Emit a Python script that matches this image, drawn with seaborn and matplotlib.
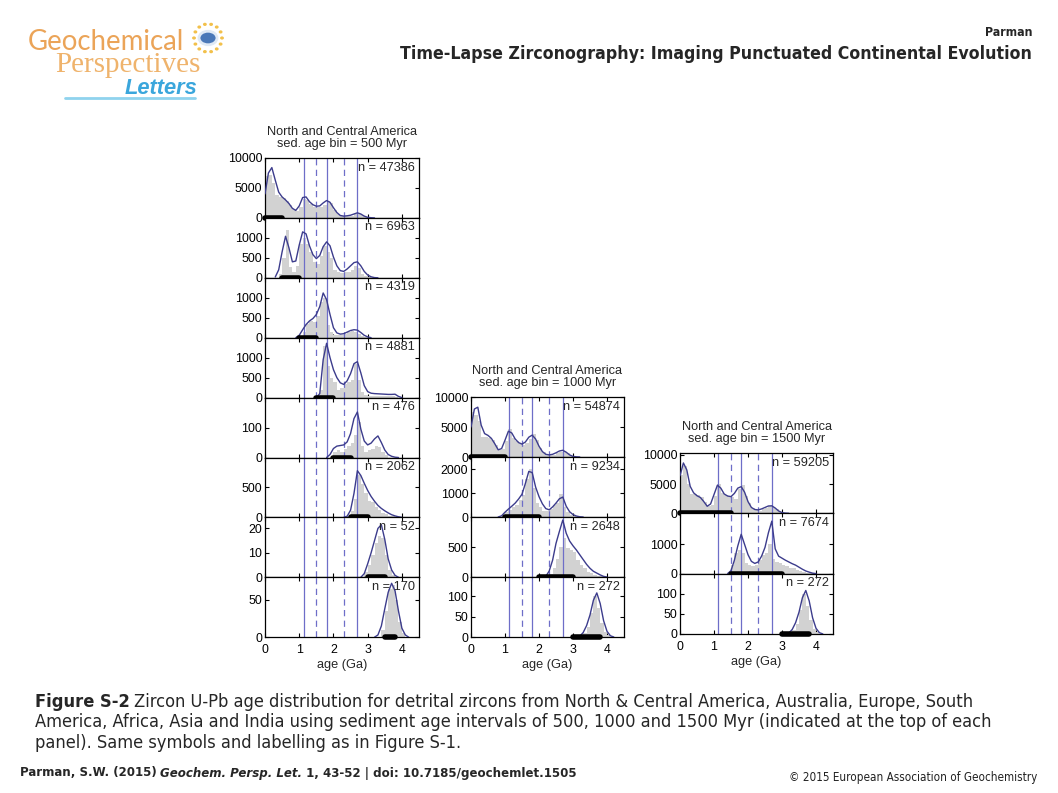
import numpy as np
import pandas as pd
import matplotlib
matplotlib.use("Agg")
import matplotlib.pyplot as plt
from matplotlib import font_manager as fm
from matplotlib.patches import Circle
import seaborn as sns

sns.set_style("ticks")
plt.rcParams["font.family"] = ["Liberation Sans", "DejaVu Sans"]

# ---------------------------------------------------------------- data
# curves: age-distribution curve read every 0.1 Ga from the given start age
# hists:  zircon counts in 0.1 Ga bins, first bin starting at the given age
solid_ages = [1.13, 1.8, 2.7]
dashed_ages = [1.5, 2.3]

# sed. age bin = 500 Myr
n_500 = [47386, 6963, 4319, 4881, 476, 2062, 52, 170]
sed_500 = [(0.0, 0.5), (0.5, 1.0), (1.0, 1.5), (1.5, 2.0),
           (2.0, 2.5), (2.5, 3.0), (3.0, 3.5), (3.5, 3.8)]
curve_start_500 = [0.0, 0.3, 0.9, 1.5, 1.8, 2.3, 2.8, 3.2]
curve_500 = [
    [4000, 7500, 8400, 6300, 4300, 3500, 3000, 2400, 1600, 1250, 2000, 3400, 3500, 2700, 2200,
     1950, 2000, 2500, 2900, 2600, 1700, 900, 400, 300, 350, 450, 650, 850, 650, 300, 100, 30, 0],
    [20, 200, 650, 1040, 750, 400, 420, 820, 1150, 1100, 800, 580, 480, 560, 780, 900, 800, 520,
     300, 180, 160, 220, 300, 380, 400, 300, 160, 70, 25, 5, 0],
    [0, 60, 200, 330, 420, 480, 580, 780, 1120, 950, 580, 250, 120, 90, 100, 140, 180, 200, 190,
     130, 60, 20, 0],
    [0, 100, 950, 1360, 1000, 700, 500, 370, 330, 420, 600, 850, 900, 620, 300, 150, 110, 100,
     95, 90, 85, 80, 80, 85, 30, 0],
    [0, 10, 30, 38, 40, 42, 52, 80, 130, 152, 95, 55, 42, 48, 62, 72, 50, 25, 10, 4, 1, 0],
    [0, 20, 120, 400, 780, 700, 570, 450, 350, 270, 200, 150, 110, 75, 45, 25, 10, 0],
    [0, 1.5, 5.5, 10, 15, 20, 21.5, 15.5, 7.5, 3, 0.8, 0],
    [0, 3, 15, 38, 60, 72, 62, 35, 12, 3, 0],
]
hist_start_500 = [0.0, 0.4, 1.0, 1.6, 2.0, 2.4, 2.9, 3.4]
hist_500 = [
    [7000, 7200, 5800, 3800, 3500, 3300, 2800, 2200, 1500, 1200, 1800, 3200, 3000, 2400, 1800,
     1800, 1900, 2200, 2800, 2500, 1400, 700, 300, 250, 300, 400, 600, 700, 500, 200, 80, 20],
    [100, 500, 1200, 280, 150, 300, 850, 1000, 850, 650, 400, 350, 550, 800, 650, 500, 200, 150,
     120, 150, 150, 200, 300, 250, 100, 40, 20],
    [50, 150, 350, 420, 400, 550, 900, 1000, 320, 150, 80, 60, 60, 90, 150, 170, 150, 100, 40, 15],
    [200, 1300, 800, 500, 400, 200, 250, 350, 400, 450, 850, 450, 150, 60, 50, 40, 40, 35, 30,
     30, 30, 30, 20],
    [20, 25, 20, 30, 40, 50, 75, 120, 40, 20, 25, 30, 40, 35, 20, 8],
    [20, 100, 300, 700, 550, 400, 280, 260, 180, 120, 80, 50, 30, 20, 10],
    [2, 5, 9, 14, 17, 16, 9, 3, 1],
    [10, 35, 65, 70, 50, 20, 5],
]
ymax_500 = [10000, 1500, 1500, 1500, 200, 1000, 24.5, 80]
yticks_500 = [[0, 5000, 10000], [0, 500, 1000], [0, 500, 1000], [0, 500, 1000],
              [0, 100], [0, 500], [0, 10, 20], [0, 50]]

# the n = 272 panel is the same sample set in the 1000 and 1500 Myr columns
curve_272 = [0, 2, 11, 28, 54, 90, 108, 82, 40, 14, 3, 0]
hist_272 = [10, 25, 60, 100, 70, 35, 12, 4]

# sed. age bin = 1000 Myr
n_1000 = [54874, 9234, 2648, 272]
sed_1000 = [(0.0, 1.0), (1.0, 2.0), (2.0, 3.0), (3.0, 3.8)]
curve_start_1000 = [0.0, 0.8, 2.1, 3.1]
curve_1000 = [
    [5000, 8000, 8300, 5300, 3900, 3600, 3100, 2200, 1200, 1400, 2800, 4300, 4000, 3000, 2400,
     2150, 2500, 3300, 3650, 3000, 1800, 900, 450, 350, 450, 700, 1000, 1120, 800, 350, 100, 30, 0],
    [0, 50, 200, 330, 450, 580, 750, 950, 1400, 1900, 1850, 1250, 850, 550, 350, 300, 420, 580,
     760, 830, 450, 220, 100, 40, 10, 0],
    [0, 10, 100, 280, 560, 760, 950, 730, 600, 520, 450, 370, 290, 210, 145, 95, 65, 35, 10, 0],
    curve_272,
]
hist_start_1000 = [0.0, 0.9, 2.3, 3.3]
hist_1000 = [
    [7500, 7000, 6000, 3300, 3300, 3200, 2800, 2000, 1200, 1400, 2600, 4600, 3200, 2600, 2300,
     2000, 2300, 3000, 3800, 2800, 1500, 800, 400, 300, 400, 600, 900, 1000, 600, 250, 80, 20],
    [60, 200, 300, 400, 500, 700, 900, 1600, 2000, 1200, 600, 400, 250, 250, 350, 500, 600, 950,
     400, 200, 80, 30],
    [50, 150, 300, 500, 650, 480, 450, 420, 280, 200, 150, 90, 60, 40, 20, 10],
    hist_272,
]
ymax_1000 = [10000, 2500, 1000, 147]
yticks_1000 = [[0, 5000, 10000], [0, 1000, 2000], [0, 500], [0, 50, 100]]

# sed. age bin = 1500 Myr
n_1500 = [59205, 7674, 272]
sed_1500 = [(0.0, 1.5), (1.5, 3.0), (3.0, 3.8)]
curve_start_1500 = [0.0, 1.4, 3.1]
curve_1500 = [
    [6400, 8600, 7400, 4600, 3500, 3000, 2700, 2000, 1200, 1600, 3200, 4800, 4300, 3300, 2950,
     2850, 3400, 4300, 4550, 3600, 2000, 1000, 650, 580, 750, 1000, 1250, 1280, 900, 400, 120, 30, 0],
    [0, 100, 460, 950, 1350, 1000, 650, 420, 350, 400, 600, 900, 1400, 1800, 850, 600, 530, 460,
     400, 340, 290, 220, 150, 90, 50, 15, 0],
    curve_272,
]
hist_start_1500 = [0.0, 1.5, 3.3]
hist_1500 = [
    [6500, 8000, 5000, 3300, 3300, 3200, 2800, 2000, 1200, 1500, 3000, 5000, 3500, 3100, 2900,
     2700, 2500, 4200, 4800, 3000, 1700, 900, 500, 450, 700, 900, 1300, 1100, 700, 300, 80, 20],
    [300, 700, 800, 700, 350, 300, 250, 300, 450, 650, 700, 1000, 500, 400, 350, 300, 250, 200,
     180, 130, 90, 50, 30, 10],
    hist_272,
]
ymax_1500 = [10300, 2070, 150]
yticks_1500 = [[0, 5000, 10000], [0, 1000], [0, 50, 100]]

bin_labels = ["500", "1000", "1500"]

# ---------------------------------------------------------------- style
KDE = "#3c3c8c"
VLINE = "#6e6ec8"
BAR = "#d2d2d2"
W, H = 1058, 793

fig = plt.figure(figsize=(W / 100, H / 100), dpi=100)
renderer = fig.canvas.get_renderer()


def box(left, top, width, height):
    return [left / W, 1 - (top + height) / H, width / W, height / H]


def draw_panel(ax, n, cstart, curve, hstart, hist, sed, ymax, yt, bottom):
    bars = pd.DataFrame({"age": hstart + 0.05 + 0.1 * np.arange(len(hist)),
                         "count": np.asarray(hist, dtype=float)})
    sns.histplot(data=bars, x="age", weights="count", binwidth=0.1, binrange=(0, 4.5),
                 color=BAR, alpha=1, linewidth=0, ax=ax, zorder=1)
    for a in solid_ages:
        ax.axvline(a, color=VLINE, lw=0.9, zorder=2)
    for a in dashed_ages:
        ax.axvline(a, color=VLINE, lw=0.9, ls=(0, (5, 3.5)), zorder=2)
    line = pd.DataFrame({"age": cstart + 0.1 * np.arange(len(curve)),
                         "value": np.asarray(curve, dtype=float)})
    sns.lineplot(data=line, x="age", y="value", color=KDE, linewidth=1.0, ax=ax, zorder=3)
    ax.plot(sed, [0, 0], color="black", lw=4, solid_capstyle="round",
            clip_on=False, zorder=6)
    ax.text(0.975, 0.94, f"n = {n}", ha="right", va="top", fontsize=9.2,
            transform=ax.transAxes, zorder=4)
    ax.set_xlim(0, 4.5)
    ax.set_ylim(0, ymax)
    ax.set_xticks([0, 1, 2, 3, 4])
    ax.set_yticks(yt)
    ax.set_xlabel("")
    ax.set_ylabel("")
    for s in ax.spines.values():
        s.set_color("black")
        s.set_linewidth(0.9)
    ax.tick_params(direction="in", length=3, width=0.8, colors="black",
                   labelsize=8.9, top=True, right=True)
    ax.tick_params(axis="y", pad=2)
    ax.tick_params(axis="x", pad=5, labelbottom=bottom)
    if bottom:
        ax.set_xlabel("age (Ga)", fontsize=9.2, labelpad=2)


columns = [
    (box(265, 158, 154, 59.9), n_500, curve_start_500, curve_500, hist_start_500, hist_500,
     sed_500, ymax_500, yticks_500, bin_labels[0]),
    (box(471, 397, 153, 60.0), n_1000, curve_start_1000, curve_1000, hist_start_1000, hist_1000,
     sed_1000, ymax_1000, yticks_1000, bin_labels[1]),
    (box(680, 453, 153, 60.3), n_1500, curve_start_1500, curve_1500, hist_start_1500, hist_1500,
     sed_1500, ymax_1500, yticks_1500, bin_labels[2]),
]

# box() gives the top panel; the others stack downwards
for (l, b, w, h), ns, cst, cur, hst, his, sed, ym, yt, lab in columns:
    k = len(ns)
    for i in range(k):
        ax = fig.add_axes([l, b - i * h, w, h])
        draw_panel(ax, ns[i], cst[i], cur[i], hst[i], his[i], sed[i], ym[i], yt[i], i == k - 1)
        if i == 0:
            ax.text(0.5, 1.14, f"North and Central America\nsed. age bin = {lab} Myr",
                    ha="center", va="bottom", fontsize=9.2, linespacing=1.0,
                    transform=ax.transAxes)


# ---------------------------------------------------------------- page text
# the page text is set in a narrow sans; use one if it is installed
installed = {(f.name, f.stretch) for f in fm.fontManager.ttflist}
if any(name == "Liberation Sans Narrow" for name, _ in installed):
    NARROW = dict(family=["Liberation Sans Narrow", "DejaVu Sans"])
elif any(name.startswith("DejaVu Sans") and str(st).lower() in ("condensed", "semi-condensed", "75", "87")
         for name, st in installed):
    NARROW = dict(family=["DejaVu Sans"], stretch="condensed")
else:
    NARROW = dict(family=["Liberation Sans", "DejaVu Sans"])


def fit_text(x, y, s, width_px, ha="left", **kw):
    t = fig.text(x / W, 1 - y / H, s, ha=ha, va="center", **kw)
    wpx = t.get_window_extent(renderer=renderer).width
    t.set_fontsize(t.get_fontsize() * width_px / wpx)
    return t


def text_width(t):
    return t.get_window_extent(renderer=renderer).width


fit_text(1032, 33, "Parman", 47, ha="right", fontweight="bold", **NARROW)
fit_text(1032, 54, "Time-Lapse Zirconography: Imaging Punctuated Continental Evolution", 627,
         ha="right", fontweight="bold", **NARROW)

# caption
cap2 = fit_text(35, 722, "America, Africa, Asia and India using sediment age intervals of 500, "
                "1000 and 1500 Myr (indicated at the top of each", 960, **NARROW)
fs = cap2.get_fontsize()
t_fig = fig.text(35 / W, 1 - 702 / H, "Figure S-2", fontsize=fs, fontweight="bold",
                 va="center", **NARROW)
x_next = 35 + text_width(t_fig) + fs * 0.3
fig.text(x_next / W, 1 - 702 / H, "Zircon U-Pb age distribution for detrital zircons from "
         "North & Central America, Australia, Europe, South", fontsize=fs, va="center", **NARROW)
fig.text(35 / W, 1 - 743 / H, "panel). Same symbols and labelling as in Figure S-1.",
         fontsize=fs, va="center", **NARROW)

# footer
f1 = fit_text(20, 773, "Parman, S.W. (2015)", 136, fontweight="bold", **NARROW)
ffs = f1.get_fontsize()
x1 = 20 + text_width(f1) + ffs * 0.35
f2 = fig.text(x1 / W, 1 - 773 / H, "Geochem. Persp. Let.", fontsize=ffs, fontweight="bold",
              style="italic", va="center", **NARROW)
x2 = x1 + text_width(f2)
fig.text(x2 / W, 1 - 773 / H, " 1, 43-52 | doi: 10.7185/geochemlet.1505", fontsize=ffs,
         fontweight="bold", va="center", **NARROW)
fit_text(1037, 777, "\u00a9 2015 European Association of Geochemistry", 247, ha="right",
         color="#222222", **NARROW)

# logo
fit_text(28, 42, "Geochemical", 157, family=["Lato", "DejaVu Sans"], color="#eba458")
fit_text(55, 65, "Perspectives", 145, family=["Liberation Serif", "DejaVu Serif"],
         color="#efb36c")
fit_text(125, 88, "Letters", 73, fontweight="bold", style="italic",
         family=["Liberation Sans", "DejaVu Sans"], color="#3aa6dc")
fig.add_artist(plt.Line2D([65 / W, 195 / W], [1 - 98 / H, 1 - 98 / H],
                          color="#8fd3ee", lw=2))
fig.add_artist(Circle((208 / W, 1 - 38 / H), 9 / W, transform=fig.transFigure,
                      facecolor="#4a78b8", edgecolor="#dfe9f5", lw=2))
for ang in np.linspace(0, 2 * np.pi, 14, endpoint=False):
    fig.add_artist(Circle(((208 + 14 * np.cos(ang)) / W, 1 - (38 + 14 * np.sin(ang)) / H),
                          1.2 / W, transform=fig.transFigure, color="#f2c04a"))

fig.savefig("out.png", dpi=100)
